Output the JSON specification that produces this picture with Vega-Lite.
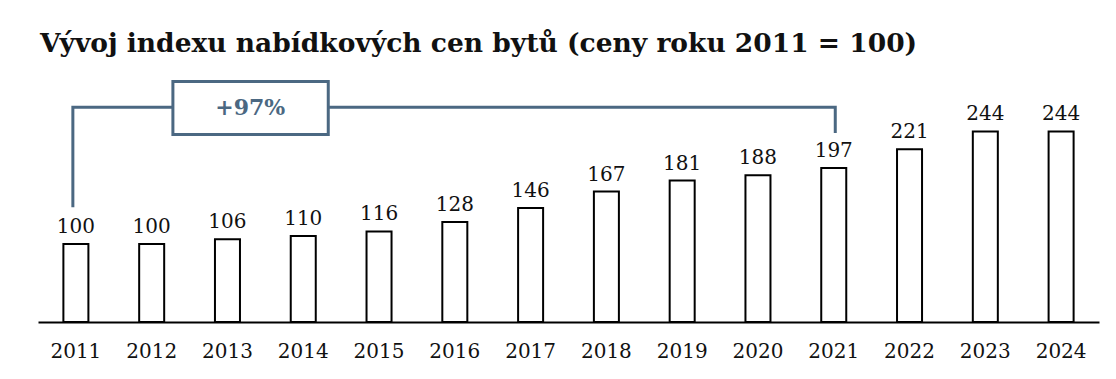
{
  "$schema": "https://vega.github.io/schema/vega-lite/v6.json",
  "autosize": "none",
  "width": 1061,
  "height": 250,
  "padding": {"left": 38, "top": 72, "right": 17, "bottom": 57},
  "background": "white",
  "title": {
    "text": "Vývoj indexu nabídkových cen bytů (ceny roku 2011 = 100)",
    "anchor": "start",
    "font": "DejaVu Serif",
    "fontWeight": "bold",
    "fontSize": 26.5,
    "color": "#111111",
    "offset": 15,
    "dx": 2
  },
  "datasets": {
    "bars": [
      {"year": "2011", "value": 100},
      {"year": "2012", "value": 100},
      {"year": "2013", "value": 106},
      {"year": "2014", "value": 110},
      {"year": "2015", "value": 116},
      {"year": "2016", "value": 128},
      {"year": "2017", "value": 146},
      {"year": "2018", "value": 167},
      {"year": "2019", "value": 181},
      {"year": "2020", "value": 188},
      {"year": "2021", "value": 197},
      {"year": "2022", "value": 221},
      {"year": "2023", "value": 244},
      {"year": "2024", "value": 244}
    ],
    "bracket": [
      {"o": 1, "x": 0.46, "y": 147},
      {"o": 2, "x": 0.46, "y": 275},
      {"o": 3, "x": 10.52, "y": 275},
      {"o": 4, "x": 10.52, "y": 242}
    ],
    "box": [
      {"x": 1.78, "x2": 3.83, "y": 240, "y2": 308, "xm": 2.8, "ym": 274, "label": "+97%"}
    ]
  },
  "resolve": {"scale": {"x": "independent"}},
  "layer": [
    {
      "data": {"name": "bars"},
      "layer": [
        {
          "mark": {"type": "bar", "fill": "white", "stroke": "black", "strokeWidth": 2},
          "encoding": {
            "x": {
              "field": "year", "type": "ordinal",
              "scale": {"paddingInner": 0.67, "paddingOuter": 0.335},
              "axis": {
                "title": null, "labelAngle": 0, "ticks": false,
                "domainColor": "black", "domainWidth": 2,
                "labelFont": "DejaVu Serif", "labelFontSize": 20, "labelColor": "#111111",
                "labelPadding": 19
              }
            },
            "y": {"field": "value", "type": "quantitative", "scale": {"domain": [0, 320], "nice": false}, "axis": null}
          }
        },
        {
          "mark": {"type": "text", "baseline": "alphabetic", "dy": -11, "font": "DejaVu Serif", "fontSize": 20, "color": "#111111"},
          "encoding": {
            "x": {"field": "year", "type": "ordinal"},
            "y": {"field": "value", "type": "quantitative"},
            "text": {"field": "value"}
          }
        }
      ]
    },
    {
      "layer": [
        {
          "data": {"name": "bracket"},
          "mark": {"type": "line", "color": "#4b6882", "strokeWidth": 3, "strokeCap": "butt", "strokeJoin": "miter"},
          "encoding": {
            "x": {"field": "x", "type": "quantitative", "scale": {"domain": [0, 14], "nice": false, "zero": false}, "axis": null},
            "y": {"field": "y", "type": "quantitative"},
            "order": {"field": "o"}
          }
        },
        {
          "data": {"name": "box"},
          "mark": {"type": "rect", "fill": "white", "stroke": "#4b6882", "strokeWidth": 3},
          "encoding": {
            "x": {"field": "x", "type": "quantitative"},
            "x2": {"field": "x2"},
            "y": {"field": "y", "type": "quantitative"},
            "y2": {"field": "y2"}
          }
        },
        {
          "data": {"name": "box"},
          "mark": {"type": "text", "font": "DejaVu Serif", "fontWeight": "bold", "fontSize": 22, "color": "#4b6882", "baseline": "middle"},
          "encoding": {
            "x": {"field": "xm", "type": "quantitative"},
            "y": {"field": "ym", "type": "quantitative"},
            "text": {"field": "label"}
          }
        }
      ]
    }
  ],
  "config": {
    "view": {"stroke": null},
    "axis": {"grid": false}
  }
}
